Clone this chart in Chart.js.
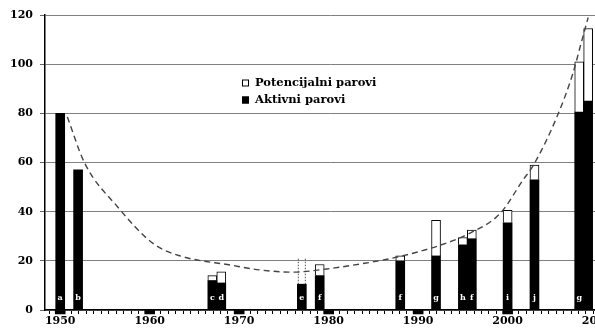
<!DOCTYPE html>
<html>
<head>
<meta charset="utf-8">
<script src="https://cdn.jsdelivr.net/npm/chart.js@4/dist/chart.umd.min.js"></script>
<style>
  html, body { margin: 0; padding: 0; background: #fff; overflow: hidden; }
  canvas { display: block; }
</style>
</head>
<body>
<canvas id="chart" width="620" height="328"></canvas>
<script>
// godine, aktivni i potencijalni parovi
const years        = [1950, 1952, 1967, 1968, 1977, 1979, 1988, 1992, 1995, 1996, 2000, 2003, 2008, 2009];
const aktivni      = [80,   57,   12,   11,   10.5, 14,   20,   22,   26.5, 29,   35.5, 53,   80.5, 85];
const potencijalni = [0,    0,    2,    4.5,  0,    4.5,  2,    14.5, 3,    3.5,  5,    6,    20.5, 29.5];
const labels       = ['a', 'b', 'c', 'd', 'e', 'f', 'f', 'g', 'h', 'f', 'i', 'j', 'g', ''];

// isprekidani dio (e)
const dottedYears  = [1977];
const dottedValues = [11];

// crne oznake ispod osi
const markerYears  = [1950, 1960, 1970, 1980, 1990, 2000];
const markerValues = [-1.6, -1.6, -1.6, -1.6, -1.6, -1.6];

// trend krivulja
const curveYears  = [1950.8, 1952.7, 1956.4, 1960.4, 1963.4, 1969.0, 1972.3, 1976.0, 1979.8, 1983.5, 1987.0, 1992.5, 1995.8, 1999.2, 2001.7, 2002.9, 2005.5, 2007.3, 2008.1, 2009.0];
const curveValues = [78.5,   60,     42,     27,     22,     18.3,   16.3,   15.4,   16.7,   18.7,   21,     26.4,   31.3,   39.4,   52.8,   59,     78.5,   96.3,   107,    119];

const yTicks = [0, 20, 40, 60, 80, 100, 120];

const serif = 'DejaVu Serif';
const pts = (xs, ys) => xs.map((x, i) => ({ x, y: ys[i] }));

const extras = {
    id: 'extras',
    afterDatasetsDraw(chart) {
        const { ctx, scales: { y } } = chart;
        ctx.save();

        // slova u stupcima
        ctx.font = `bold 8px "${serif}"`;
        ctx.fillStyle = '#fff';
        ctx.textAlign = 'center';
        ctx.textBaseline = 'middle';
        chart.getDatasetMeta(0).data.forEach((bar, i) => {
            if (labels[i]) ctx.fillText(labels[i], bar.x, y.getPixelForValue(5));
        });

        // isprekidani rubovi
        ctx.setLineDash([1.5, 1.5]);
        ctx.strokeStyle = '#555';
        ctx.lineWidth = 1;
        chart.getDatasetMeta(2).data.forEach(bar => {
            const { x, y: top, base, width } = bar.getProps(['x', 'y', 'base', 'width'], true);
            [x - width / 2 + 0.5, x + width / 2 - 0.5].forEach(px => {
                ctx.beginPath();
                ctx.moveTo(px, base);
                ctx.lineTo(px, top);
                ctx.stroke();
            });
        });
        ctx.restore();
    },
    afterDraw(chart) {
        const { ctx, chartArea } = chart;
        const lx = chartArea.left + 197;
        const ly = chartArea.top + 68;
        ctx.save();
        ctx.font = `bold 11.5px "${serif}"`;
        ctx.textBaseline = 'middle';
        ctx.fillStyle = '#000';
        [['Potencijalni parovi', '#fff'], ['Aktivni parovi', '#000']].forEach(([text, fill], i) => {
            const cy = ly + i * 17;
            ctx.fillStyle = fill;
            ctx.fillRect(lx, cy - 3.5, 7, 7);
            ctx.strokeStyle = '#000';
            ctx.lineWidth = 1;
            ctx.strokeRect(lx + 0.5, cy - 3, 6, 6);
            ctx.fillStyle = '#000';
            ctx.fillText(text, lx + 13, cy);
        });
        ctx.restore();
    },
};

new Chart(document.getElementById('chart'), {
    type: 'bar',
    data: {
        datasets: [
            {
                label: 'Aktivni parovi',
                data: pts(years, aktivni),
                backgroundColor: '#000',
                barThickness: 9,
            },
            {
                label: 'Potencijalni parovi',
                data: pts(years, potencijalni).filter(p => p.y > 0),
                backgroundColor: '#fff',
                borderColor: '#000',
                borderWidth: 1,
                barThickness: 9,
            },
            {
                label: 'e',
                data: pts(dottedYears, dottedValues),
                backgroundColor: 'rgba(0,0,0,0)',
                barThickness: 8,
            },
            {
                label: 'oznake',
                data: pts(markerYears, markerValues),
                backgroundColor: '#000',
                barThickness: 10,
                clip: false,
            },
            {
                type: 'line',
                label: 'trend',
                data: pts(curveYears, curveValues),
                stack: 'curve',
                borderColor: '#444',
                borderWidth: 1.4,
                borderDash: [6, 4],
                pointRadius: 0,
                cubicInterpolationMode: 'monotone',
                order: -1,
            },
        ],
    },
    options: {
        responsive: false,
        animation: false,
        layout: { padding: { top: 15, right: 5, left: 0, bottom: 0 } },
        plugins: {
            legend: { display: false },
            tooltip: { enabled: false },
        },
        scales: {
            x: {
                type: 'linear',
                min: 1948.3,
                max: 2012,
                offset: false,
                stacked: true,
                afterBuildTicks: scale => {
                    const t = [];
                    for (let d = 1940; d <= 2010; d += 10) {
                        for (let k = 0; k < 12; k++) {
                            const v = d + k * 10 / 12;
                            if (v >= scale.min && v <= scale.max) t.push({ value: v });
                        }
                    }
                    scale.ticks = t;
                },
                afterFit: scale => { scale.height = 18; },
                grid: { drawOnChartArea: false, tickLength: 4, tickColor: '#000' },
                border: { color: '#000', width: 1.5 },
                ticks: {
                    autoSkip: false,
                    maxRotation: 0,
                    padding: 1,
                    color: '#000',
                    font: { family: serif, weight: 'bold', size: 11 },
                    callback: v => (Math.abs(v - Math.round(v)) < 0.01 && Math.round(v) % 10 === 0) ? Math.round(v) : '',
                },
            },
            y: {
                min: 0,
                max: 120,
                stacked: true,
                afterBuildTicks: scale => { scale.ticks = yTicks.map(value => ({ value })); },
                afterFit: scale => { scale.width = 45; },
                grid: { color: '#808080', lineWidth: 1, tickLength: 5, tickColor: '#666' },
                border: { color: '#000', width: 1.5 },
                ticks: {
                    padding: 7,
                    color: '#000',
                    font: { family: serif, weight: 'bold', size: 11 },
                },
            },
        },
    },
    plugins: [extras],
});
</script>
</body>
</html>
